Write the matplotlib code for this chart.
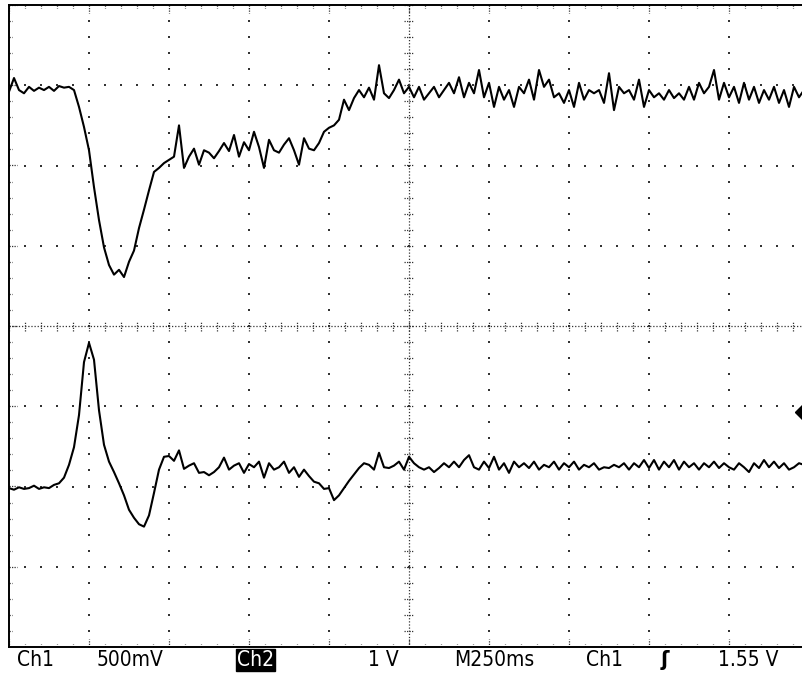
import numpy as np
import matplotlib
matplotlib.use("Agg")
import matplotlib.pyplot as plt

# -------- CONFIG --------
OUTPUT_PATH = "out.png"
FIG_W, FIG_H, DPI = 8.02, 6.73, 100
SAMPLE_MS = 15.625          # one record point every 15.625 ms
MS_PER_DIV = 250.0
# ------------------------

# screen readout (vertical position in divisions from screen centre)
ch1_div = [
    2.92, 3.09, 2.94, 2.90, 2.98, 2.93, 2.97, 2.94, 2.98, 2.93,
    2.99, 2.97, 2.98, 2.94, 2.73, 2.48, 2.19, 1.73, 1.32, 0.98,
    0.76, 0.64, 0.70, 0.61, 0.80, 0.94, 1.22, 1.45, 1.69, 1.92,
    1.97, 2.03, 2.07, 2.11, 2.50, 1.97, 2.11, 2.21, 2.01, 2.19,
    2.16, 2.09, 2.18, 2.28, 2.18, 2.38, 2.11, 2.29, 2.19, 2.42,
    2.23, 1.97, 2.32, 2.19, 2.16, 2.26, 2.34, 2.19, 2.01, 2.34,
    2.21, 2.19, 2.28, 2.42, 2.47, 2.50, 2.57, 2.82, 2.69, 2.84,
    2.94, 2.85, 2.97, 2.82, 3.25, 2.90, 2.84, 2.94, 3.07, 2.90,
    2.98, 2.85, 2.98, 2.82, 2.90, 2.98, 2.85, 2.94, 3.03, 2.90,
    3.10, 2.85, 3.03, 2.90, 3.19, 2.85, 3.03, 2.73, 2.98, 2.82,
    2.94, 2.73, 2.98, 2.90, 3.07, 2.82, 3.19, 2.98, 3.07, 2.85,
    2.90, 2.78, 2.94, 2.73, 3.03, 2.82, 2.94, 2.90, 2.94, 2.78,
    3.15, 2.69, 2.98, 2.90, 2.94, 2.82, 3.07, 2.73, 2.94, 2.85,
    2.90, 2.82, 2.94, 2.84, 2.90, 2.82, 2.98, 2.82, 3.03, 2.90,
    2.98, 3.19, 2.82, 3.03, 2.85, 2.98, 2.78, 3.03, 2.82, 2.98,
    2.78, 2.94, 2.82, 2.98, 2.78, 2.94, 2.73, 2.98, 2.85, 2.94,
]

ch2_div = [
    -2.02, -2.04, -2.01, -2.03, -2.02, -1.99, -2.03, -2.01, -2.02, -1.98,
    -1.96, -1.89, -1.73, -1.51, -1.11, -0.45, -0.21, -0.42, -1.05, -1.48,
    -1.69, -1.82, -1.96, -2.11, -2.29, -2.39, -2.47, -2.50, -2.36, -2.08,
    -1.79, -1.63, -1.62, -1.68, -1.55, -1.78, -1.74, -1.71, -1.83, -1.82,
    -1.86, -1.82, -1.76, -1.64, -1.79, -1.74, -1.71, -1.83, -1.72, -1.76,
    -1.69, -1.89, -1.71, -1.79, -1.76, -1.69, -1.83, -1.76, -1.88, -1.79,
    -1.87, -1.94, -1.96, -2.03, -2.02, -2.17, -2.11, -2.02, -1.93, -1.85,
    -1.77, -1.71, -1.73, -1.79, -1.58, -1.76, -1.77, -1.74, -1.69, -1.79,
    -1.63, -1.71, -1.76, -1.79, -1.76, -1.82, -1.77, -1.71, -1.76, -1.69,
    -1.76, -1.67, -1.61, -1.76, -1.79, -1.69, -1.77, -1.63, -1.79, -1.71,
    -1.83, -1.69, -1.76, -1.71, -1.77, -1.69, -1.79, -1.73, -1.76, -1.69,
    -1.79, -1.71, -1.76, -1.69, -1.79, -1.73, -1.76, -1.71, -1.79, -1.76,
    -1.77, -1.73, -1.76, -1.71, -1.79, -1.71, -1.76, -1.67, -1.77, -1.67,
    -1.79, -1.69, -1.76, -1.67, -1.79, -1.69, -1.76, -1.71, -1.79, -1.71,
    -1.76, -1.69, -1.77, -1.71, -1.76, -1.79, -1.71, -1.76, -1.82, -1.71,
    -1.77, -1.67, -1.76, -1.69, -1.77, -1.71, -1.79, -1.76, -1.71, -1.73,
]

trigger_level_div = -1.07

readout = [
    ("Ch1", 17),
    ("500mV", 97),
    ("Ch2", 237),
    ("1 V", 368),
    ("M250ms", 454),
    ("Ch1", 586),
    ("\u0283", 661),
    ("1.55 V", 718),
]

plt.rcParams["font.family"] = ["DejaVu Sans"]

fig = plt.figure(figsize=(FIG_W, FIG_H), dpi=DPI)
ax = fig.add_axes([9 / 802, 26 / 673, 800 / 802, 642 / 673])
ax.set_xlim(0, 10)
ax.set_ylim(-4, 4)
ax.set_xticks([])
ax.set_yticks([])
for side in ["left", "top", "bottom", "right"]:
    ax.spines[side].set_linewidth(1.4)
    ax.spines[side].set_color("black")

# -------- GRATICULE --------
dot_kw = dict(marker="s", s=1.6, color="#333333", linewidths=0, zorder=1)
minor_x = np.arange(0, 10.001, 0.2)
minor_y = np.arange(-4, 4.001, 0.2)
for gx in [1, 2, 3, 4, 6, 7, 8, 9]:
    ax.scatter(np.full_like(minor_y, gx), minor_y, **dot_kw)
for gy in [-3, -2, -1, 1, 2, 3]:
    ax.scatter(minor_x, np.full_like(minor_x, gy), **dot_kw)

# centre cross, dense dots with small ticks
ax.axhline(0, color="#333333", lw=0.9, ls=(0, (1, 1.5)), zorder=1)
ax.axvline(5, color="#333333", lw=0.9, ls=(0, (1, 1.5)), zorder=1)
tk = 0.06
for x in minor_x:
    ax.plot([x, x], [-tk, tk], color="#333333", lw=0.9, ls=(0, (1, 1)), zorder=1)
for y in minor_y:
    ax.plot([5 - tk, 5 + tk], [y, y], color="#333333", lw=0.9, ls=(0, (1, 1)), zorder=1)

# edge ticks
for x in minor_x:
    L = 0.1 if abs(x - round(x)) < 1e-6 else 0.04
    ax.plot([x, x], [-4, -4 + L], color="#333333", lw=0.9, ls=(0, (1, 1)), zorder=1)
    ax.plot([x, x], [4, 4 - L], color="#333333", lw=0.9, ls=(0, (1, 1)), zorder=1)
for y in minor_y:
    L = 0.1 if abs(y - round(y)) < 1e-6 else 0.04
    ax.plot([0, L], [y, y], color="#333333", lw=0.9, ls=(0, (1, 1)), zorder=1)

# -------- TRACES --------
t1 = np.arange(len(ch1_div)) * SAMPLE_MS / MS_PER_DIV
t2 = np.arange(len(ch2_div)) * SAMPLE_MS / MS_PER_DIV
ax.plot(t1, ch1_div, color="black", lw=1.5, zorder=3)
ax.plot(t2, ch2_div, color="black", lw=1.5, zorder=3)

# trigger level marker at right edge
ax.plot([(802 - 9) / 80 + 0.02], [trigger_level_div], marker="D", color="black",
        markersize=9, clip_on=False, zorder=4)

# -------- READOUT --------
for label, xpx in readout:
    kw = dict(fontsize=15, color="black", va="center", ha="left",
              fontstretch="condensed")
    if label == "Ch2":
        kw.update(color="white", bbox=dict(facecolor="black", edgecolor="black", pad=0.8))
    if label == "\u0283":
        kw.update(fontsize=16, fontweight="bold")
    fig.text(xpx / 802, 1 - 660 / 673, label, **kw)

fig.savefig(OUTPUT_PATH, dpi=DPI)
